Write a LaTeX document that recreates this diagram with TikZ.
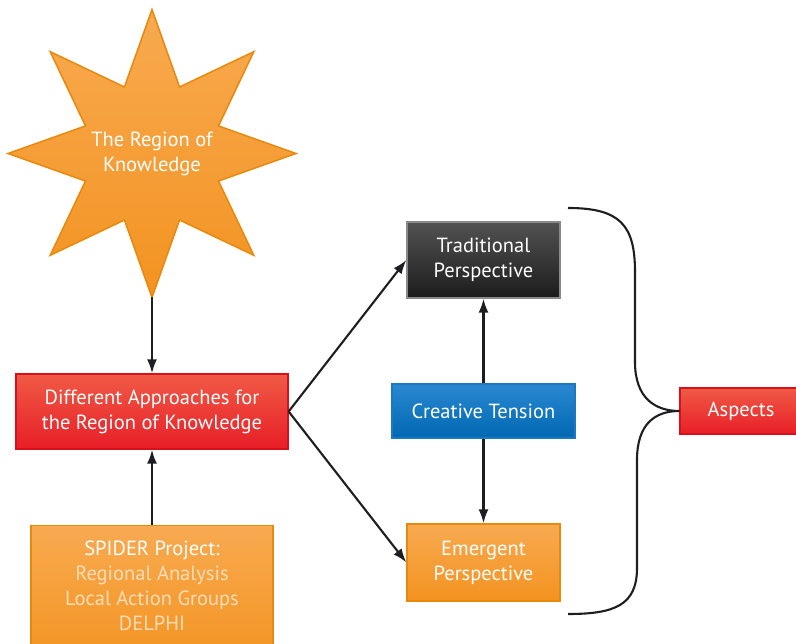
\documentclass[tikz,border=0pt]{standalone}
\usepackage{fontspec}
\setmainfont{PT Sans}
\usetikzlibrary{arrows.meta}
\definecolor{orT}{HTML}{F8AA50}
\definecolor{orB}{HTML}{F39321}
\definecolor{orD}{HTML}{E8890C}
\definecolor{rdT}{HTML}{F05A45}
\definecolor{rdB}{HTML}{E81E27}
\definecolor{rdD}{HTML}{D7101C}
\definecolor{dkT}{HTML}{525252}
\definecolor{dkB}{HTML}{1C1C1C}
\definecolor{dkD}{HTML}{8A8A8A}
\definecolor{blT}{HTML}{2A88D0}
\definecolor{blB}{HTML}{0068B2}
\definecolor{blD}{HTML}{1C78C4}
\definecolor{peach}{HTML}{FDDDB8}
\definecolor{ink}{HTML}{1E1E22}
\tikzset{
  boxbase/.style={rectangle, line width=1.3pt, text=white, align=center, inner sep=0pt,
    font=\fontsize{20.5}{25}\selectfont},
  orangebox/.style={boxbase, draw=orD, top color=orT, bottom color=orB},
  redbox/.style={boxbase, draw=rdD, top color=rdT, bottom color=rdB},
  darkbox/.style={boxbase, draw=dkD, top color=dkT, bottom color=dkB},
  bluebox/.style={boxbase, draw=blD, top color=blT, bottom color=blB},
  link/.style={draw=ink, line width=2.1pt, -{Latex[length=14pt,width=10pt]}},
  bracestyle/.style={draw=ink, line width=2.1pt},
  plain/.style={text=white, align=center, font=\fontsize{20.5}{25}\selectfont},
}
\begin{document}
\begin{tikzpicture}[x=1pt,y=-1pt]
\useasboundingbox (0,0) rectangle (796,644);
% star
\begin{scope}[shift={(152,153.5)}]
\draw[draw=orD, line width=1.5pt, top color=orT, bottom color=orB]
  (0:144) \foreach \i in {1,...,15} { -- ({\i*22.5}:{ifthenelse(mod(\i,2)==0,144,72)}) } -- cycle;
\end{scope}
\node[plain] (star) at (152,153.5) {The Region of\\Knowledge};
\coordinate (startip) at (152,297.5);
% boxes
\node[redbox, minimum width=272pt, minimum height=75pt] (appr) at (152,411.5) {Different Approaches for\\the Region of Knowledge};
\node[orangebox, minimum width=242pt, minimum height=140pt, anchor=north] (spider) at (152,525) {};
\node[plain] (spidertext) at (152,586) {SPIDER Project:\\\textcolor{peach}{Regional Analysis}\\\textcolor{peach}{Local Action Groups}\\\textcolor{peach}{DELPHI}};
\node[darkbox, minimum width=153pt, minimum height=76pt] (trad) at (483.5,260) {Traditional\\Perspective};
\node[bluebox, minimum width=183pt, minimum height=54pt] (crea) at (483.5,411) {Creative Tension};
\node[orangebox, minimum width=153pt, minimum height=77pt] (emer) at (483.5,562.5) {Emergent\\Perspective};
\node[redbox, minimum width=122pt, minimum height=46pt] (asp) at (741,411) {Aspects};
% connectors
\draw[link] (startip) -- (appr.north);
\draw[link] (spider.north) -- (appr.south);
\draw[link] (appr.east) -- (trad.west);
\draw[link] (appr.east) -- (emer.west);
\draw[link] (crea.north) -- (trad.south);
\draw[link] (crea.south) -- (emer.north);
% brace
\coordinate (btop) at (568,208);
\coordinate (bbot) at (568,614);
\draw[bracestyle] (btop) .. controls (620,208) and (635,225) .. (635,272) -- (635,362)
  .. controls (635,398) and (655,411) .. (asp.west);
\draw[bracestyle] (asp.west) .. controls (655,411) and (637,424) .. (637,460) -- (637,568)
  .. controls (637,605) and (615,614) .. (bbot);
\end{tikzpicture}
\end{document}
